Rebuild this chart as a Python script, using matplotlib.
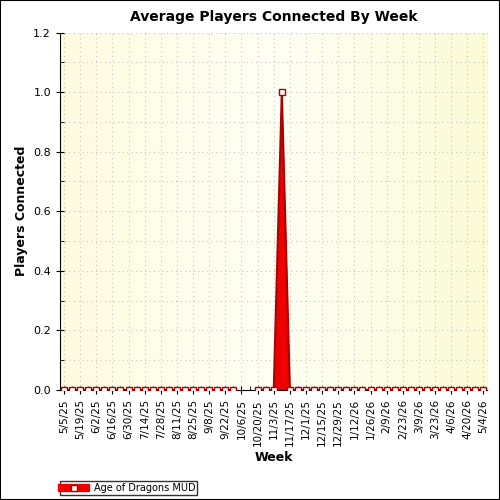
import matplotlib
matplotlib.use("Agg")
import matplotlib.pyplot as plt
import numpy as np
import datetime as dt
from matplotlib.lines import Line2D
from matplotlib.colors import LinearSegmentedColormap

start = dt.date(2025, 5, 5)
weeks = [start + dt.timedelta(days=7 * i) for i in range(53)]
week_labels = [f"{d.month}/{d.day}/{d.strftime('%y')}" for d in weeks]
values = [0.0] * 53
values[27] = 1.0   # 11/10/25
values[22] = np.nan  # 10/6/25
values[23] = np.nan  # 10/13/25
values = np.array(values)

fig = plt.figure(figsize=(5, 5), dpi=100)
fig.patch.set_facecolor("white")
ax = fig.add_axes([0.12, 0.22, 0.855, 0.715])
x = np.arange(len(weeks))

grad = np.linspace(0, 1, 256).reshape(1, -1)
cm = LinearSegmentedColormap.from_list("g", ["#fffbe0", "#fffff4", "#fbfbd6"])
ax.imshow(grad, extent=[-0.5, 52.5, 0, 1.2], aspect="auto", cmap=cm, zorder=0)

ax.fill_between(x, 0, np.nan_to_num(values), color="#ee0000", zorder=2, linewidth=0)
ax.plot(x, values, color="#aa0000", lw=1.5, zorder=3)
ax.plot(x, values, ls="none", marker="s", ms=4.5, mfc="white", mec="#aa0000", mew=1, zorder=4)

ax.set_xlim(-0.5, 52.5)
ax.set_ylim(0, 1.2)
ax.set_xticks(x[::2])
ax.set_xticklabels(week_labels[::2], rotation=90, fontsize=7.5)
ax.set_xticks(x, minor=True)
ax.set_yticks(np.arange(0, 1.21, 0.2))
ax.set_yticklabels([f"{v:.1f}" for v in np.arange(0, 1.21, 0.2)], fontsize=8)
ax.set_yticks(np.arange(0, 1.21, 0.1), minor=True)
ax.tick_params(direction="inout", length=6, which="major")
ax.tick_params(direction="in", length=3, which="minor")
ax.grid(True, which="major", axis="x", ls=(0, (1, 3)), color="#c8c8c8", lw=0.8, zorder=1)
ax.grid(True, which="both", axis="y", ls=(0, (1, 3)), color="#c8c8c8", lw=0.8, zorder=1)
for s in ["top", "right"]:
    ax.spines[s].set_visible(False)

ax.set_title("Average Players Connected By Week", fontsize=10, fontweight="bold", pad=8)
ax.set_xlabel("Week", fontsize=9, fontweight="bold")
ax.set_ylabel("Players Connected", fontsize=9, fontweight="bold")

h = Line2D([], [], color="#ee0000", lw=6, marker="s", ms=5, mfc="white", mec="#aa0000")
fig.legend([h], ["Age of Dragons MUD"], loc="lower left", bbox_to_anchor=(0.11, 0.0),
           fontsize=7, frameon=True, fancybox=False, edgecolor="black",
           handlelength=2.5, borderpad=0.2)

fig.add_artist(plt.Rectangle((0, 0), 1, 1, transform=fig.transFigure, fill=False,
                             edgecolor="black", lw=1.5))
fig.savefig("out.png", dpi=100)
